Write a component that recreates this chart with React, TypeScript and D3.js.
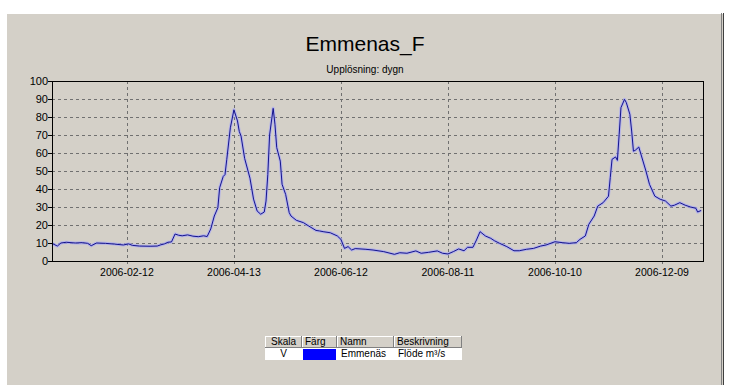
import React from "react";
import * as d3 from "d3";

const TITLE = "Emmenas_F";
const SUBTITLE = "Upplösning: dygn";

// day offset from 2006-01-01 and daily flow (m³/s)
const dayOffsets = [0, 3, 5, 8, 13, 17, 20, 22, 25, 30, 35, 40, 43, 45, 49, 55, 59, 61, 63, 65, 67, 69, 71, 73, 76, 79, 82, 85, 87, 89, 91, 93, 94, 96, 97, 98, 100, 102, 104, 105, 106, 108, 111, 113, 115, 117, 119, 120, 121, 122, 124, 125, 126, 128, 129, 131, 133, 134, 137, 141, 144, 148, 150, 152, 156, 160, 162, 164, 166, 168, 170, 176, 180, 186, 192, 195, 199, 204, 207, 211, 216, 219, 222, 225, 228, 231, 233, 236, 238, 240, 243, 246, 248, 251, 255, 259, 262, 266, 270, 274, 277, 282, 286, 290, 294, 296, 299, 301, 304, 306, 309, 312, 313, 314, 316, 317, 318, 319, 321, 322, 324, 325, 326, 327, 329, 330, 333, 335, 338, 341, 344, 347, 349, 352, 355, 358, 361, 362, 364];
const flowValues = [9.8, 8.3, 10, 10.4, 10, 10.2, 9.8, 8.5, 10, 9.8, 9.4, 8.9, 9.5, 8.7, 8.3, 8.2, 8.3, 9, 9.5, 10.4, 10.6, 15, 14.3, 14, 14.5, 13.8, 13.5, 14, 13.6, 17.8, 25, 29.6, 40.7, 47, 48, 56.5, 74, 84, 77.8, 72, 69.4, 57, 46, 34.4, 27.8, 26, 27.2, 33.3, 48, 70, 84.8, 76, 63, 55.5, 42.6, 37, 26.9, 25, 22.6, 21.3, 19.4, 17, 16.7, 16.3, 15.7, 13.9, 12, 7, 8, 6.1, 6.9, 6.5, 6.1, 5.2, 3.7, 4.6, 4.3, 5.6, 4.3, 4.8, 5.6, 4.3, 3.9, 5.2, 6.7, 5.7, 7.6, 7.6, 11.7, 16.3, 13.9, 12.6, 11.3, 9.8, 8, 5.7, 5.7, 6.5, 7, 8.3, 8.9, 10.7, 10.2, 9.8, 10.2, 12, 13.9, 20.4, 25, 30.5, 32.4, 36, 46.3, 56.5, 57.8, 55.9, 70.4, 85.2, 89.8, 88, 81.5, 72.2, 61, 61.5, 63.3, 60, 50, 42.6, 36, 34.3, 33.3, 30.5, 31, 32.4, 31, 30, 29.3, 27.2, 28.1];

const xTickLabels = ["2006-02-12", "2006-04-13", "2006-06-12", "2006-08-11", "2006-10-10", "2006-12-09"];
const yTicks = [0, 10, 20, 30, 40, 50, 60, 70, 80, 90, 100];

const legendHeaders = ["Skala", "Färg", "Namn", "Beskrivning"];
const legendRow = ["V", "", "Emmenäs", "Flöde m³/s"];
const seriesColor = "#0000ff";

const W = 744, H = 385;
const PL = 52, PR = 703, PT = 81, PB = 261;
const FONT = "'Liberation Sans', Arial, sans-serif";

export default function App() {
  const start = new Date(Date.UTC(2006, 0, 1));
  const end = new Date(Date.UTC(2007, 0, 1));
  const x = d3.scaleUtc().domain([start, end]).range([PL, PR]);
  const y = d3.scaleLinear().domain([0, 100]).range([PB, PT]);
  const parse = d3.utcParse("%Y-%m-%d");
  const data = dayOffsets.map((d, i) => ({ date: d3.utcDay.offset(start, d), v: flowValues[i] }));
  const line = d3.line<{ date: Date; v: number }>().x((d) => x(d.date)).y((d) => y(d.v));
  const path = line(data) || "";
  const xTicks = xTickLabels.map((s) => ({ s, d: parse(s) as Date }));

  const colX = [265, 302, 337, 394, 462];
  const rowY = [336, 348, 360];

  return (
    <svg width={W} height={H} style={{ position: "absolute", left: 0, top: 0 }} fontFamily={FONT}>
      <rect x={0} y={0} width={W} height={H} fill="#ffffff" />
      <rect x={6} y={13} width={717} height={H - 13} fill="#d4d0c8" />
      <line x1={6.5} y1={13} x2={6.5} y2={H} stroke="#ffffff" />
      <line x1={6} y1={13.5} x2={723} y2={13.5} stroke="#ffffff" />
      <line x1={721.5} y1={13} x2={721.5} y2={H} stroke="#808080" />
      <line x1={723.5} y1={13} x2={723.5} y2={H} stroke="#404040" />

      <text x={365} y={51} textAnchor="middle" fontSize={21} fill="#000">{TITLE}</text>
      <text x={365} y={73} textAnchor="middle" fontSize={10} fill="#000">{SUBTITLE}</text>

      {/* grid */}
      {yTicks.filter((t) => t > 0 && t < 100).map((t) => (
        <line key={"gy" + t} x1={PL} x2={PR} y1={Math.round(y(t)) + 0.5} y2={Math.round(y(t)) + 0.5}
          stroke="#707070" strokeDasharray="3,3" />
      ))}
      {xTicks.map((t) => (
        <line key={"gx" + t.s} x1={Math.round(x(t.d)) + 0.5} x2={Math.round(x(t.d)) + 0.5} y1={PT} y2={PB + 4}
          stroke="#707070" strokeDasharray="3,3" />
      ))}

      {/* series */}
      <path d={path} fill="none" stroke="#a8a8f4" strokeWidth={3} strokeLinejoin="round" opacity={0.75} />
      <path d={path} fill="none" stroke="#14148c" strokeWidth={1} strokeLinejoin="round" />

      {/* frame */}
      <rect x={PL + 0.5} y={PT + 0.5} width={PR - PL} height={PB - PT} fill="none" stroke="#000" />

      {/* y axis */}
      {yTicks.map((t) => (
        <g key={"yt" + t}>
          <line x1={PL - 4} x2={PL} y1={Math.round(y(t)) + 0.5} y2={Math.round(y(t)) + 0.5} stroke="#000" />
          <text x={PL - 4} y={y(t) + 4} textAnchor="end" fontSize={11} fill="#000">{t}</text>
        </g>
      ))}
      {/* x axis labels */}
      {xTicks.map((t) => (
        <text key={"xt" + t.s} x={x(t.d)} y={276} textAnchor="middle" fontSize={10.5} fill="#000">{t.s}</text>
      ))}

      {/* legend table */}
      {legendHeaders.map((h, i) => (
        <g key={"lh" + i}>
          <rect x={colX[i]} y={rowY[0]} width={colX[i + 1] - colX[i]} height={rowY[1] - rowY[0]} fill="#d4d0c8" />
          <line x1={colX[i] + 0.5} x2={colX[i] + 0.5} y1={rowY[0]} y2={rowY[1]} stroke="#ffffff" />
          <line x1={colX[i]} x2={colX[i + 1]} y1={rowY[0] + 0.5} y2={rowY[0] + 0.5} stroke="#ffffff" />
          <line x1={colX[i + 1] - 0.5} x2={colX[i + 1] - 0.5} y1={rowY[0]} y2={rowY[1]} stroke="#808080" />
          <line x1={colX[i]} x2={colX[i + 1]} y1={rowY[1] - 0.5} y2={rowY[1] - 0.5} stroke="#808080" />
          <text x={i === 0 ? (colX[0] + colX[1]) / 2 : colX[i] + 3} y={rowY[1] - 3}
            textAnchor={i === 0 ? "middle" : "start"} fontSize={10} fill="#000">{h}</text>
        </g>
      ))}
      <rect x={colX[0]} y={rowY[1]} width={colX[4] - colX[0]} height={rowY[2] - rowY[1]} fill="#ffffff" />
      <rect x={colX[1] + 1} y={rowY[1] + 1} width={colX[2] - colX[1] - 2} height={rowY[2] - rowY[1] - 1} fill={seriesColor} />
      {legendRow.map((c, i) => (
        <text key={"lr" + i} x={i === 0 ? (colX[0] + colX[1]) / 2 : colX[i] + 4} y={rowY[2] - 3}
          textAnchor={i === 0 ? "middle" : "start"} fontSize={10} fill="#000">{c}</text>
      ))}
    </svg>
  );
}
